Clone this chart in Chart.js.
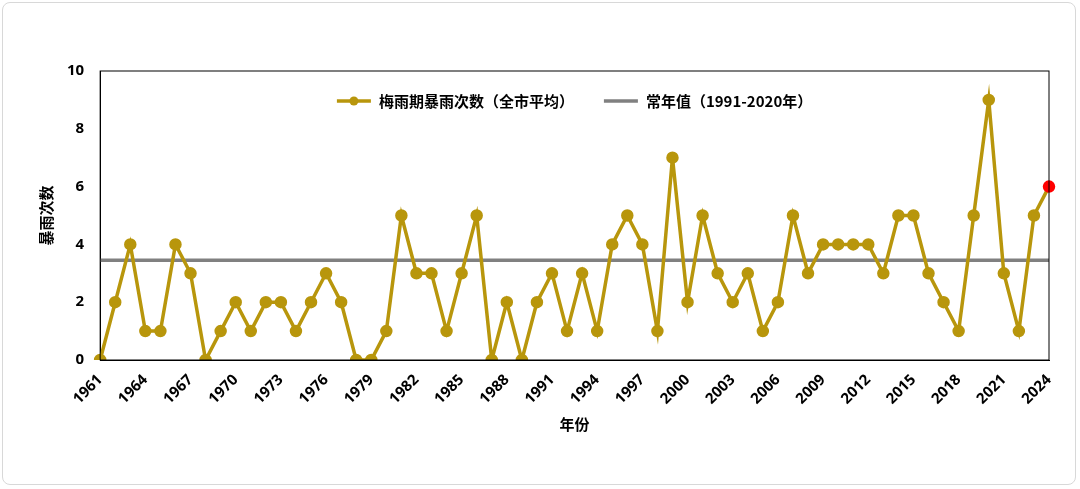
<!DOCTYPE html>
<html><head><meta charset="utf-8">
<script src="https://cdn.jsdelivr.net/npm/chart.js@4/dist/chart.umd.min.js"></script>
<style>
html,body{margin:0;background:#fff;}
#wrap{position:absolute;left:2px;top:2px;width:1074px;height:483px;border:1px solid #d8d8d8;border-radius:8px;box-sizing:border-box;}
canvas{position:absolute;left:0;top:0;}
</style></head>
<body><div id="wrap"></div>
<canvas id="c" width="1080" height="489"></canvas>
<script>
// years 1961-2024
const years = [];
for (let y = 1961; y <= 2024; y++) years.push(String(y));
const stormCounts = [0,2,4,1,1,4,3,0,1,2,1,2,2,1,2,3,2,0,0,1,
  5,3,3,1,3,5,0,2,0,2,3,1,3,1,4,5,4,1,7,2,
  5,3,2,3,1,2,5,3,4,4,4,4,3,5,5,3,2,1,5,9,
  3,1,5,6];
const normalValue = 3.45;
const normalLine = years.map(() => normalValue);
const yTicks = [0,2,4,6,8,10];

const gold = '#B8960C';
const legendFont = 'bold 15px "Noto Sans CJK SC", "Noto Sans"';

const frame = {
    id: 'frame',
    afterDraw(chart) {
        const a = chart.chartArea, ctx = chart.ctx;
        ctx.save();
        ctx.strokeStyle = '#000';
        ctx.lineWidth = 1;
        ctx.strokeRect(a.left, a.top, a.right - a.left, a.bottom - a.top);

        // legend drawn in one row inside the plot
        ctx.font = legendFont;
        ctx.textBaseline = 'middle';
        const y = a.top + 30;
        const lineLen = 34, gap = 8, between = 30;
        const sets = chart.data.datasets;
        let total = 0;
        sets.forEach(d => { total += lineLen + gap + ctx.measureText(d.label).width; });
        total += between * (sets.length - 1);
        let x = (a.left + a.right) / 2 - total / 2;
        sets.forEach(d => {
            ctx.strokeStyle = d.borderColor;
            ctx.lineWidth = 3.5;
            ctx.beginPath(); ctx.moveTo(x, y); ctx.lineTo(x + lineLen, y); ctx.stroke();
            if (d.pointRadius > 0) {
                ctx.fillStyle = d.borderColor;
                ctx.beginPath(); ctx.arc(x + lineLen / 2, y, 4.5, 0, Math.PI * 2); ctx.fill();
            }
            ctx.fillStyle = '#000';
            ctx.fillText(d.label, x + lineLen + gap, y);
            x += lineLen + gap + ctx.measureText(d.label).width + between;
        });
        ctx.restore();
    }
};

new Chart(document.getElementById('c').getContext('2d'), {
    type: 'line',
    data: {
        labels: years,
        datasets: [{
            label: '梅雨期暴雨次数（全市平均）',
            data: stormCounts,
            borderColor: gold,
            backgroundColor: gold,
            borderWidth: 3.5,
            pointRadius: 4.5,
            pointBackgroundColor: stormCounts.map((v, i) => i === stormCounts.length - 1 ? '#ff0000' : gold),
            pointBorderColor: stormCounts.map((v, i) => i === stormCounts.length - 1 ? '#ff0000' : gold),
            tension: 0
        }, {
            label: '常年值（1991-2020年）',
            data: normalLine,
            borderColor: '#808080',
            backgroundColor: '#808080',
            borderWidth: 3.5,
            pointRadius: 0
        }]
    },
    options: {
        responsive: false,
        animation: false,
        layout: { padding: { left: 33, right: 31, top: 71, bottom: 52 } },
        plugins: {
            legend: { display: false },
            tooltip: { enabled: false }
        },
        scales: {
            x: {
                offset: false,
                grid: { display: false },
                border: { color: '#000' },
                title: { display: true, text: '年份', color: '#000', font: { family: '"Noto Sans CJK SC"', size: 15, weight: 'bold' } },
                ticks: {
                    autoSkip: false, minRotation: 45, maxRotation: 45, color: '#000',
                    font: { family: '"Noto Sans", sans-serif', size: 15, weight: 'bold' },
                    callback: (v, i) => i % 3 === 0 ? years[i] : ''
                }
            },
            y: {
                min: 0, max: 10,
                afterBuildTicks: s => { s.ticks = yTicks.map(v => ({ value: v })); },
                grid: { display: false },
                border: { color: '#000' },
                title: { display: true, text: '暴雨次数', color: '#000', font: { family: '"Noto Sans CJK SC"', size: 15, weight: 'bold' } },
                ticks: { color: '#000', padding: 8, font: { family: '"Noto Sans", sans-serif', size: 15, weight: 'bold' } }
            }
        }
    },
    plugins: [frame]
});
</script></body></html>
